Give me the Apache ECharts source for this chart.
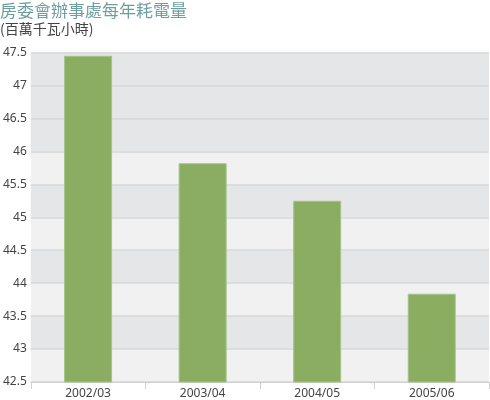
<!DOCTYPE html>
<html><head><meta charset="utf-8">
<script src="https://cdn.jsdelivr.net/npm/echarts@6/dist/echarts.min.js"></script>
<style>html,body{margin:0;padding:0;background:#fff}#c{width:490px;height:400px}</style>
</head><body><div id="c"></div>
<script>
const categories = ['2002/03', '2003/04', '2004/05', '2005/06'];
const consumption = [47.45, 45.82, 45.25, 43.84];
const titleText = '房委會辦事處每年耗電量';
const unitText = '(百萬千瓦小時)';
const yMin = 42.5, yMax = 47.5, yStep = 0.5;

const chart = echarts.init(document.getElementById('c'), null, {renderer: 'canvas'});
const light = '#f1f1f2', gray = '#e5e6e7';
chart.setOption({
  animation: false,
  backgroundColor: '#ffffff',
  title: [
    {text: titleText, left: -5, top: -3, textStyle: {fontFamily: 'Noto Sans CJK TC', fontSize: 17, fontWeight: 'normal', color: '#6d9f9d'}},
    {text: unitText, left: -5, top: 17, textStyle: {fontFamily: 'Noto Sans CJK TC', fontSize: 14, fontWeight: 'normal', color: '#444'}}
  ],
  grid: {left: 28, right: 1, top: 52.5, bottom: 17.5, containLabel: false},
  xAxis: {
    type: 'category', data: categories,
    axisLine: {show: true, lineStyle: {color: '#d0d0d0', width: 1}},
    axisTick: {show: true, length: 7, lineStyle: {color: '#d0d0d0'}},
    axisLabel: {color: '#444', fontSize: 12, fontFamily: 'Noto Sans', margin: 6}
  },
  yAxis: {
    type: 'value', min: yMin, max: yMax, interval: yStep,
    axisLine: {show: false}, axisTick: {show: false},
    axisLabel: {color: '#444', fontSize: 12, fontFamily: 'Noto Sans', margin: 4},
    splitLine: {show: true, lineStyle: {color: '#d6d7d8', width: 1.5}},
    splitArea: {show: true, areaStyle: {color: [light, gray, light, gray, light, gray, light, gray, gray, gray]}}
  },
  series: [{
    type: 'bar', data: consumption, barWidth: 48,
    itemStyle: {color: '#8aad62', borderColor: '#a5c485', borderWidth: 1}
  }]
});
</script></body></html>
